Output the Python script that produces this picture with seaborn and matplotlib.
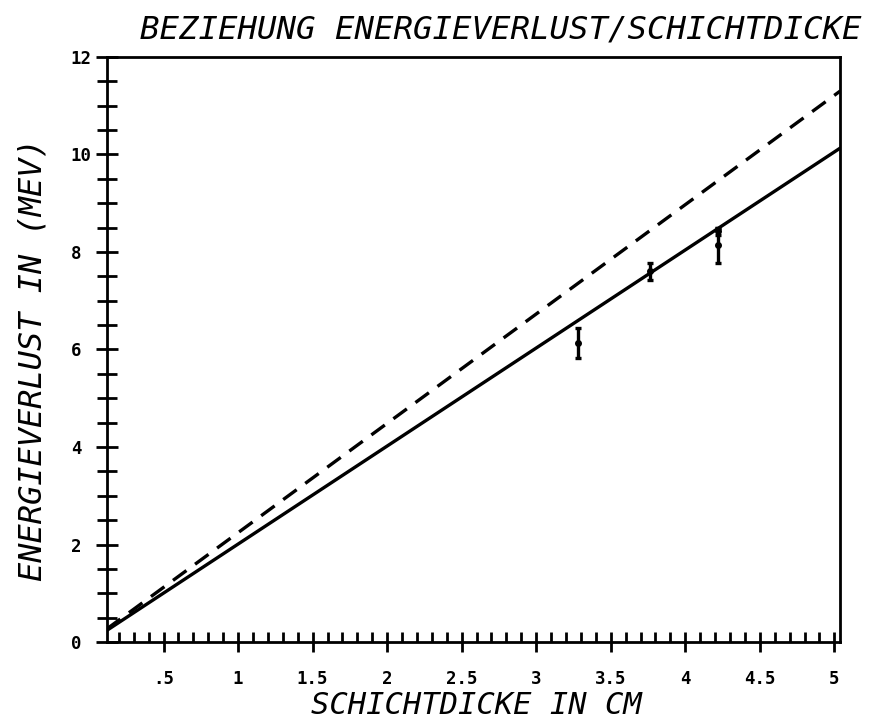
import matplotlib
matplotlib.use("Agg")
import matplotlib.pyplot as plt
import numpy as np
import pandas as pd
import seaborn as sns
from matplotlib.ticker import MultipleLocator, FixedLocator

sns.set_style("ticks")
plt.rcParams["font.family"] = ["DejaVu Sans Mono", "DejaVu Sans"]
plt.rcParams["text.color"] = "black"
plt.rcParams["xtick.color"] = "black"
plt.rcParams["ytick.color"] = "black"
plt.rcParams["xtick.labelcolor"] = "black"
plt.rcParams["ytick.labelcolor"] = "black"

# fitted lines (endpoints)
line_x = [0.12, 5.04]
solid_y = [0.24, 10.13]
dashed_y = [0.27, 11.3]

# measured points with error bars
pt_x = [3.28, 3.76, 4.22, 4.22]
pt_y = [6.13, 7.60, 8.14, 8.42]
pt_err = [0.30, 0.17, 0.36, 0.07]

x_ticks = [0.5, 1, 1.5, 2, 2.5, 3, 3.5, 4, 4.5, 5]
x_labels = [".5", "1", "1.5", "2", "2.5", "3", "3.5", "4", "4.5", "5"]
y_ticks = [0, 2, 4, 6, 8, 10, 12]

lines = pd.DataFrame({
    "x": line_x * 2,
    "y": solid_y + dashed_y,
    "kind": ["solid", "solid", "dashed", "dashed"],
})

fig = plt.figure(figsize=(8.69, 7.19), dpi=100)
ax = fig.add_axes([0.123, 0.107, 0.844, 0.814])

sns.lineplot(data=lines[lines.kind == "solid"], x="x", y="y", color="black",
             linewidth=2.4, ax=ax)
sns.lineplot(data=lines[lines.kind == "dashed"], x="x", y="y", color="black",
             linewidth=2.4, ax=ax)
ax.lines[-1].set_dashes([5, 3.2])

ax.errorbar(pt_x, pt_y, yerr=pt_err, fmt="o", color="black", markersize=4,
            elinewidth=2.4, capsize=2.5, capthick=2.4)

ax.set_xlim(0.12, 5.04)
ax.set_ylim(0, 12)

ax.xaxis.set_major_locator(FixedLocator(x_ticks))
ax.set_xticklabels(x_labels)
ax.xaxis.set_minor_locator(MultipleLocator(0.1))
ax.yaxis.set_major_locator(FixedLocator(y_ticks))
ax.yaxis.set_minor_locator(MultipleLocator(0.5))

ax.tick_params(axis="x", which="major", direction="inout", length=14,
               width=2, labelsize=12.5, pad=13)
ax.tick_params(axis="x", which="minor", direction="in", length=7, width=2)
ax.tick_params(axis="y", which="major", direction="inout", length=16,
               width=2, labelsize=12.5, pad=18)
ax.tick_params(axis="y", which="minor", direction="inout", length=14, width=2)
for lab in ax.get_xticklabels() + ax.get_yticklabels():
    lab.set_fontweight("bold")
for lab in ax.get_yticklabels():
    lab.set_horizontalalignment("left")

for side in ["left", "bottom", "right", "top"]:
    ax.spines[side].set_visible(True)
    ax.spines[side].set_linewidth(2)
    ax.spines[side].set_color("black")

ax.set_xlabel("")
ax.set_ylabel("")
fig.text(476 / 869, 1 - 714 / 719, "SCHICHTDICKE IN CM", fontsize=22,
         fontstyle="italic", ha="center", va="baseline")
fig.text(33 / 869, 1 - 360 / 719, "ENERGIEVERLUST IN (MEV)", fontsize=23,
         fontstyle="italic", ha="center", va="center", rotation=90)
fig.text(862 / 869, 1 - 30 / 719, "BEZIEHUNG ENERGIEVERLUST/SCHICHTDICKE",
         fontsize=23.3, fontstyle="italic", ha="right", va="center")

fig.savefig("out.png", dpi=100, facecolor="white")
